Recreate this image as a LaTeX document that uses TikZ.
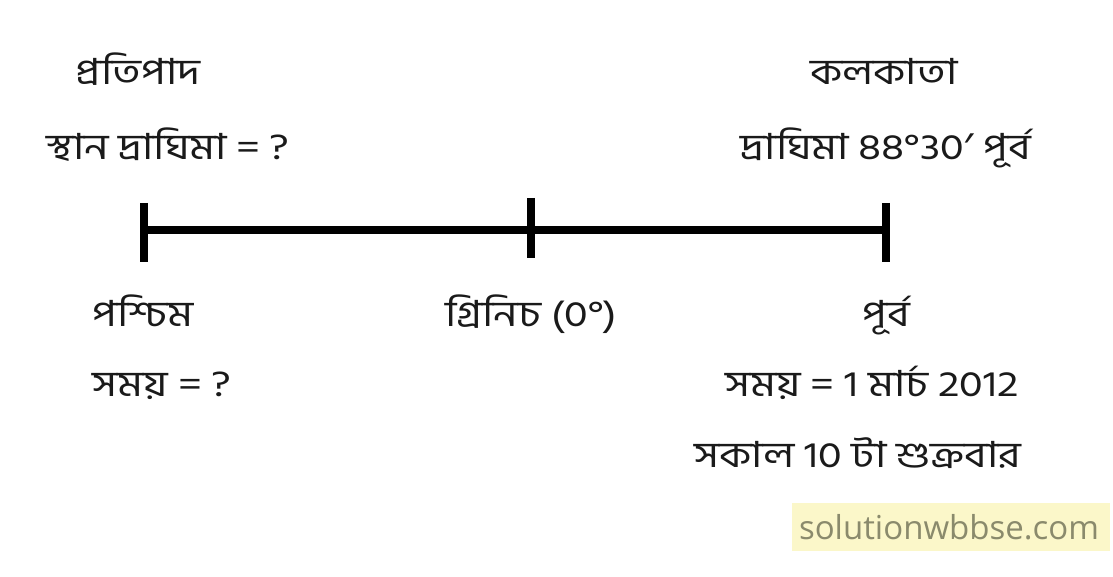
\documentclass[tikz,border=0pt]{standalone}
\usepackage{fontspec}
\setmainfont[Script=Bengali,FakeStretch=1.2]{Hind Siliguri}
\newfontfamily\primefont[FakeStretch=1.2]{Noto Sans}
\newfontfamily\wmfont{Open Sans}
\definecolor{wmbg}{HTML}{FBF7C9}
\definecolor{wmtext}{HTML}{8A8A6C}
\definecolor{txt}{HTML}{1A1A1A}
\tikzset{
  lbl/.style={anchor=base, inner sep=0pt, font=\fontsize{36}{42}\selectfont, text=txt},
  bar/.style={line width=8pt, line cap=butt},
}
\begin{document}
\begin{tikzpicture}[x=1pt,y=-1pt]
\useasboundingbox (0,0) rectangle (1113,577);
\fill[white] (0,0) rectangle (1113,577);
\coordinate (W) at (144,230);
\coordinate (G) at (531,230);
\coordinate (E) at (886,230);
\coordinate (Wt) at (144,203); \coordinate (Wb) at (144,262);
\coordinate (Gt) at (531,198); \coordinate (Gb) at (531,258);
\coordinate (Et) at (886,203); \coordinate (Eb) at (886,262);
\draw[bar] (W) -- (G) -- (E);
\draw[bar] (Wt) -- (Wb);
\draw[bar] (Gt) -- (Gb);
\draw[bar] (Et) -- (Eb);
\node[lbl] (t1) at (138,85) {প্রতিপাদ};
\node[lbl] (t2) at (168,160) {স্থান দ্রাঘিমা = ?};
\node[lbl] (t3) at (884,85) {কলকাতা};
\node[lbl] (t4) at (886,160) {দ্রাঘিমা 88°30{\primefont ′} পূর্ব};
\node[lbl] (t5) at (143,326) {পশ্চিম};
\node[lbl] (t6) at (531,326) {গ্রিনিচ (0°)};
\node[lbl] (t7) at (886,326) {পূর্ব};
\node[lbl] (t8) at (162,396) {সময় = ?};
\node[lbl] (t9) at (872,396) {সময় = 1 মার্চ 2012};
\node[lbl] (t10) at (858,467) {সকাল 10 টা শুক্রবার};
\fill[wmbg] (792,503) rectangle (1110,551);
\node[font=\wmfont\fontsize{33}{38}\selectfont, text=wmtext, inner sep=0pt] (wm) at (949,527) {solutionwbbse.com};
\end{tikzpicture}
\end{document}
